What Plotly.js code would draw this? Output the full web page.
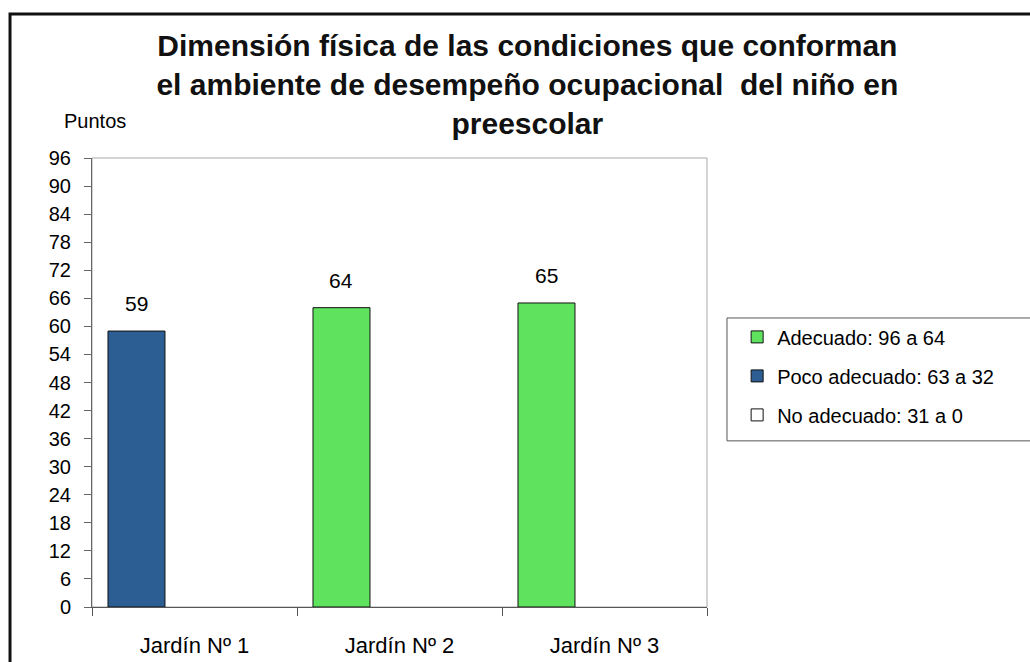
<!DOCTYPE html>
<html>
<head>
<meta charset="utf-8">
<script src="https://cdn.plot.ly/plotly-3.0.1.min.js"></script>
<style>
html,body{margin:0;padding:0;background:#fff;}
#chart{width:1030px;height:662px;}
</style>
</head>
<body>
<div id="chart"></div>
<script>
// ---- data ----
const categories = ['Jardín Nº 1', 'Jardín Nº 2', 'Jardín Nº 3'];
const adecuado = [null, 64, 65];
const pocoAdecuado = [59, null, null];
const noAdecuado = [null, null, null];
const puntos = [59, 64, 65];
const seriesNames = ['Adecuado: 96 a 64', 'Poco adecuado: 63 a 32', 'No adecuado: 31 a 0'];
const yTicks = [0, 6, 12, 18, 24, 30, 36, 42, 48, 54, 60, 66, 72, 78, 84, 90, 96];

const FONT = 'Arial, "Liberation Sans", sans-serif';
const BAR_OFFSET = -0.422;
const BAR_WIDTH = 0.278;

function barTrace(name, y, color, group) {
  return {
    type: 'bar',
    name: name,
    x: categories,
    y: y,
    offset: BAR_OFFSET,
    width: BAR_WIDTH,
    legendgroup: group,
    marker: {color: color, line: {color: '#111', width: 1}},
    hoverinfo: 'x+y'
  };
}

const data = [
  barTrace(seriesNames[0], adecuado, '#5fe35f', 'a'),
  barTrace(seriesNames[1], pocoAdecuado, '#2c5d93', 'b'),
  barTrace(seriesNames[2], noAdecuado, '#ffffff', 'c')
];

const annotations = puntos.map((v, i) => ({
  x: i + BAR_OFFSET + BAR_WIDTH / 2,
  y: v,
  xref: 'x', yref: 'y',
  text: String(v),
  showarrow: false,
  yanchor: 'bottom',
  yshift: 14,
  font: {family: FONT, size: 21, color: '#000'}
}));

annotations.push({
  x: -0.049, y: 1.082, xref: 'paper', yref: 'paper',
  xanchor: 'left', yanchor: 'middle',
  text: 'Puntos', showarrow: false,
  font: {family: FONT, size: 20, color: '#000'}
});

const layout = {
  width: 1030, height: 662,
  margin: {l: 92, r: 323, t: 158, b: 55, pad: 0},
  paper_bgcolor: '#fff', plot_bgcolor: '#fff',
  font: {family: FONT, color: '#000'},
  title: {
    text: 'Dimensión física de las condiciones que conforman<br>el ambiente de desempeño ocupacional  del niño en<br>preescolar',
    font: {family: FONT, size: 30, color: '#111', weight: 'bold'},
    x: 0.512, xref: 'container', xanchor: 'center',
    y: 0.916, yref: 'container', yanchor: 'top'
  },
  barmode: 'overlay',
  bargap: 0,
  showlegend: true,
  legend: {
    x: 1.049, y: 0.645, xref: 'paper', yref: 'paper',
    xanchor: 'left', yanchor: 'top',
    bgcolor: 'rgba(0,0,0,0)', borderwidth: 0,
    traceorder: 'grouped', tracegroupgap: 10,
    font: {family: FONT, size: 20, color: '#000'}
  },
  xaxis: {
    type: 'category',
    range: [-0.5, 2.5],
    showgrid: false, zeroline: false,
    showline: true, linecolor: '#555', linewidth: 1,
    ticks: 'outside', ticklen: 8, tickcolor: '#555', tickson: 'boundaries',
    ticklabelstandoff: 19,
    tickfont: {family: FONT, size: 22, color: '#000'},
    fixedrange: true
  },
  yaxis: {
    range: [0, 96],
    tickvals: yTicks,
    ticktext: yTicks.map(String),
    showgrid: false, zeroline: false,
    showline: true, linecolor: '#666', linewidth: 1,
    ticks: 'outside', ticklen: 7, tickcolor: '#666',
    ticklabelstandoff: 9,
    tickfont: {family: FONT, size: 20, color: '#000'},
    fixedrange: true
  },
  annotations: annotations,
  shapes: [
    // plot frame
    {type: 'rect', xref: 'paper', yref: 'paper', x0: 0, x1: 1, y0: 0, y1: 1,
     line: {color: '#a8a8a8', width: 1}, layer: 'below'},
    // legend box
    {type: 'rect', xref: 'paper', yref: 'paper', x0: 1.0325, x1: 1.6, y0: 0.37, y1: 0.6437,
     line: {color: '#555', width: 1}, layer: 'below'},
    // outer chart frame
    {type: 'rect', xref: 'paper', yref: 'paper', x0: -0.1333, x1: 2, y0: -0.5, y1: 1.3207,
     line: {color: '#111', width: 3}, layer: 'below'}
  ]
};

Plotly.newPlot('chart', data, layout, {displayModeBar: false, staticPlot: true});
</script>
</body>
</html>
